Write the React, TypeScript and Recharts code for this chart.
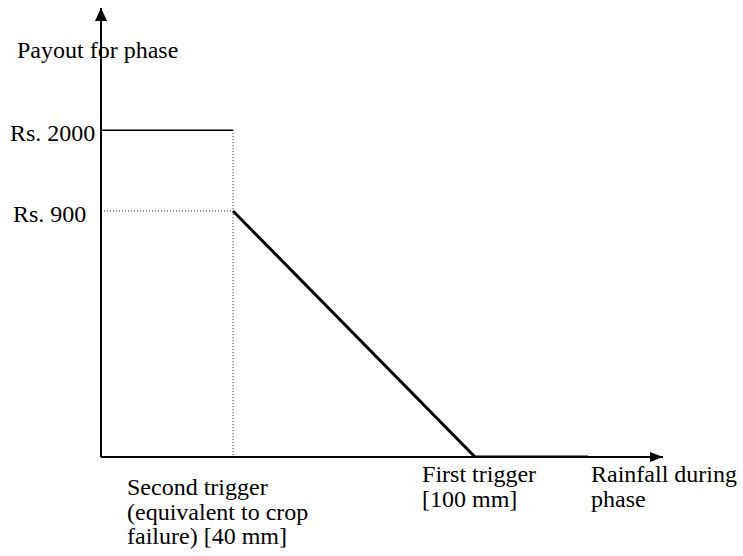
import { LineChart, Line, XAxis, YAxis, ReferenceLine, ReferenceDot, Label } from "recharts";

// values (rainfall in mm, payout in Rs.)
const rainfallMm = [40, 100, 128];
const payoutRs = [900, 0, 0];
const capPayout = 2000;
const secondTriggerMm = 40;
const yTicks = [900, 2000];
const yTickLabels = ["Rs. 900", "Rs. 2000"];
const xTicks = [40, 100];
const xTickLabels = [
  ["Second trigger", "(equivalent to crop", "failure) [40 mm]"],
  ["First trigger", "[100 mm]"],
];
const xTitle = ["Rainfall during", "phase"];
const yTitle = "Payout for phase";

const data = rainfallMm.map((mm, i) => ({ mm, payout: payoutRs[i] }));

// layout
const W = 743;
const H = 556;
const FONT = "'Liberation Serif', 'Times New Roman', serif";
const FS = 24;
const X_DOMAIN: [number, number] = [7.27, 146.6];
const Y_TOP = 2600;
// the drawing is a sketch, not to scale: payout levels sit at these fractions of the axis height
const Y_KNOTS = [0, 900, 2000, Y_TOP];
const Y_FRACS = [0, 0.548, 0.728, 1];
const Y_TICK_LEFT: Record<number, number> = { 900: 13, 2000: 10 };
const X_TICK_DX: Record<number, number> = { 40: -106, 100: -53 };
const X_TICK_DY: Record<number, number> = { 40: 38, 100: 25 };
const LINE_GAP = 24.5;

function sketchScale() {
  let dom = [Y_KNOTS[0], Y_KNOTS[Y_KNOTS.length - 1]];
  let rng = [0, 1];
  const fn: any = (v: number) => {
    let i = 0;
    while (i < Y_KNOTS.length - 2 && v > Y_KNOTS[i + 1]) i++;
    const t = (v - Y_KNOTS[i]) / (Y_KNOTS[i + 1] - Y_KNOTS[i]);
    const f = Y_FRACS[i] + t * (Y_FRACS[i + 1] - Y_FRACS[i]);
    return rng[0] + f * (rng[1] - rng[0]);
  };
  fn.domain = (d?: number[]) => {
    if (d === undefined) return dom;
    dom = d;
    return fn;
  };
  fn.range = (r?: number[]) => {
    if (r === undefined) return rng;
    rng = r;
    return fn;
  };
  fn.copy = () => {
    const c = sketchScale();
    c.domain(dom).range(rng);
    return c;
  };
  fn.ticks = () => yTicks;
  return fn;
}

const YTick = (props: any) => {
  const { y, payload } = props;
  const idx = yTicks.indexOf(payload.value);
  return (
    <text x={Y_TICK_LEFT[payload.value]} y={y + 11} fontFamily={FONT} fontSize={FS} fill="#000">
      {yTickLabels[idx]}
    </text>
  );
};

const XTick = (props: any) => {
  const { x, y, payload } = props;
  const idx = xTicks.indexOf(payload.value);
  const lines = xTickLabels[idx] || [];
  return (
    <text fontFamily={FONT} fontSize={FS} fill="#000">
      {lines.map((l, i) => (
        <tspan key={i} x={x + X_TICK_DX[payload.value]} y={y + X_TICK_DY[payload.value] + i * LINE_GAP}>
          {l}
        </tspan>
      ))}
    </text>
  );
};

const XTitle = (props: any) => {
  const { viewBox } = props;
  const right = viewBox.x + viewBox.width;
  return (
    <text fontFamily={FONT} fontSize={FS} fill="#000">
      {xTitle.map((l, i) => (
        <tspan key={i} x={right - 72} y={viewBox.y + 25 + i * LINE_GAP}>
          {l}
        </tspan>
      ))}
    </text>
  );
};

const YTitle = () => (
  <text x={17} y={58} fontFamily={FONT} fontSize={FS} fill="#000">
    {yTitle}
  </text>
);

const ArrowRight = (props: any) => {
  const { cx, cy } = props;
  return <path d={`M${cx},${cy} L${cx - 13},${cy - 5} L${cx - 13},${cy + 5} Z`} fill="#000" />;
};

const ArrowUp = (props: any) => {
  const { cx, cy } = props;
  return <path d={`M${cx},${cy} L${cx - 6},${cy + 13} L${cx + 6},${cy + 13} Z`} fill="#000" />;
};

export default function App() {
  return (
    <div style={{ position: "absolute", left: 0, top: 0, width: W, height: H, background: "#fff" }}>
      <LineChart width={W} height={H} data={data} margin={{ top: 8, right: 80, bottom: 0, left: 0 }}>
        <XAxis
          type="number"
          dataKey="mm"
          domain={X_DOMAIN}
          allowDataOverflow
          ticks={xTicks}
          tick={<XTick />}
          tickLine={false}
          tickSize={0}
          tickMargin={0}
          height={99}
          axisLine={{ stroke: "#000", strokeWidth: 2 }}
        >
          <Label content={<XTitle />} />
        </XAxis>
        <YAxis
          type="number"
          domain={[0, Y_TOP]}
          allowDataOverflow
          scale={sketchScale() as any}
          ticks={yTicks}
          tick={<YTick />}
          tickLine={false}
          tickSize={0}
          tickMargin={0}
          width={101}
          axisLine={{ stroke: "#000", strokeWidth: 2 }}
        >
          <Label content={<YTitle />} />
        </YAxis>
        <ReferenceLine
          segment={[
            { x: X_DOMAIN[0], y: capPayout },
            { x: secondTriggerMm, y: capPayout },
          ]}
          stroke="#000"
          strokeWidth={1.5}
          ifOverflow="visible"
        />
        <ReferenceLine
          segment={[
            { x: secondTriggerMm, y: capPayout },
            { x: secondTriggerMm, y: 0 },
          ]}
          stroke="#222"
          strokeWidth={1}
          strokeDasharray="1 2"
          ifOverflow="visible"
        />
        <ReferenceLine
          segment={[
            { x: X_DOMAIN[0], y: payoutRs[0] },
            { x: secondTriggerMm, y: payoutRs[0] },
          ]}
          stroke="#222"
          strokeWidth={1}
          strokeDasharray="1 2"
          ifOverflow="visible"
        />
        <Line
          type="linear"
          dataKey="payout"
          stroke="#000"
          strokeWidth={3}
          dot={false}
          activeDot={false}
          isAnimationActive={false}
        />
        <ReferenceDot x={X_DOMAIN[1]} y={0} shape={<ArrowRight />} ifOverflow="visible" />
        <ReferenceDot x={X_DOMAIN[0]} y={Y_TOP} shape={<ArrowUp />} ifOverflow="visible" />
      </LineChart>
    </div>
  );
}
